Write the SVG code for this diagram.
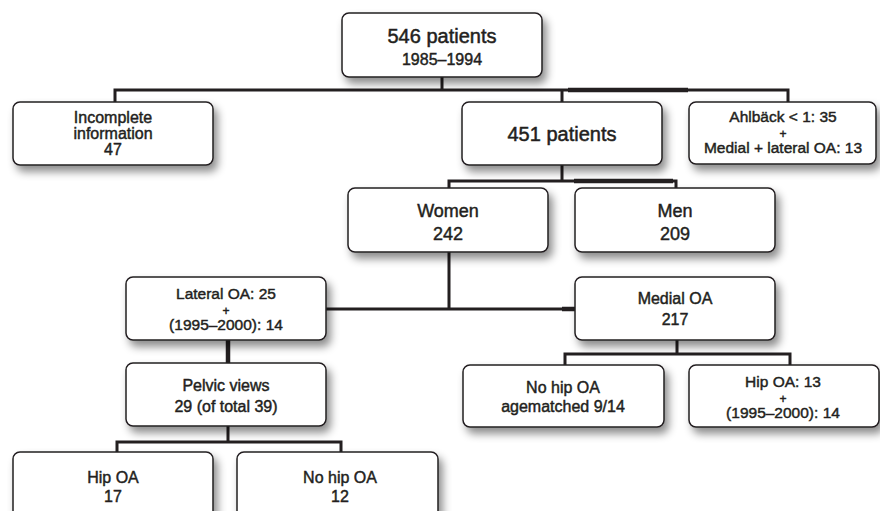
<svg xmlns="http://www.w3.org/2000/svg" width="880" height="511" viewBox="0 0 880 511">
<defs>
<filter id="sh" x="-10%" y="-20%" width="130%" height="160%">
<feDropShadow dx="4" dy="6" stdDeviation="4" flood-color="#000" flood-opacity="0.45"/>
</filter>
<style>
.box{fill:#fff;stroke:#231f20;stroke-width:1.5;filter:url(#sh)}
.ln{stroke:#231f20;stroke-width:3;fill:none}
.th{stroke:#231f20;stroke-width:4.5;fill:none}
text{font-family:"Liberation Sans",Arial,Helvetica,sans-serif;font-weight:normal;fill:#231f20;stroke:#231f20;stroke-width:0.45;text-anchor:middle}
.t15{font-size:16px}
.t3{font-size:15.5px}
.pl{font-size:12px}
.t17{font-size:18px}
.t19{font-size:20px;stroke-width:0.5}
</style>
</defs>
<rect width="880" height="511" fill="#fff"/>
<g id="connectors">
<path class="ln" d="M442 77V90M115 102V90H788V102M562 90V102"/>
<path class="th" d="M568 90H688"/>
<path class="ln" d="M562 165V181M449 188V181H676V188"/>
<path class="th" d="M574 181H673"/>
<path class="ln" d="M449 252V309M326 309H575"/>
<path class="th" d="M562 309H575"/>
<path class="th" d="M228 340V363"/>
<path class="ln" d="M228 426V442M117 452V442H341V452"/>
<path class="ln" d="M677 340V354M565 365V354H790V365"/>
</g>
<g id="n546">
<rect class="box" x="342" y="13" width="200" height="64" rx="7"/>
<text class="t19" x="442" y="43">546 patients</text>
<text class="t15" x="442" y="65">1985–1994</text>
</g>
<g id="incomplete">
<rect class="box" x="13" y="102" width="200" height="63" rx="7"/>
<text class="t15" x="113" y="123">Incomplete</text>
<text class="t15" x="113" y="139">information</text>
<text class="t15" x="113" y="155">47</text>
</g>
<g id="n451">
<rect class="box" x="462" y="102" width="200" height="63" rx="7"/>
<text class="t19" x="562" y="141">451 patients</text>
</g>
<g id="ahlback">
<rect class="box" x="689" y="102" width="187" height="62" rx="7"/>
<text class="t3" x="783" y="122">Ahlbäck &lt; 1: 35</text>
<text class="pl" x="783" y="137.5">+</text>
<text class="t3" x="783" y="153">Medial + lateral OA: 13</text>
</g>
<g id="women">
<rect class="box" x="348" y="188" width="200" height="64" rx="7"/>
<text class="t17" x="448" y="217">Women</text>
<text class="t17" x="448" y="240">242</text>
</g>
<g id="men">
<rect class="box" x="575" y="188" width="200" height="64" rx="7"/>
<text class="t17" x="675" y="217">Men</text>
<text class="t17" x="675" y="240">209</text>
</g>
<g id="lateral">
<rect class="box" x="126" y="277" width="200" height="63" rx="7"/>
<text class="t3" x="226" y="299">Lateral OA: 25</text>
<text class="pl" x="226" y="314.5">+</text>
<text class="t3" x="226" y="330">(1995–2000): 14</text>
</g>
<g id="medial">
<rect class="box" x="575" y="277" width="200" height="63" rx="7"/>
<text class="t15" x="675" y="304">Medial OA</text>
<text class="t15" x="675" y="325">217</text>
</g>
<g id="pelvic">
<rect class="box" x="126" y="363" width="200" height="63" rx="7"/>
<text class="t15" x="226" y="391">Pelvic views</text>
<text class="t15" x="226" y="412">29 (of total 39)</text>
</g>
<g id="nohipage">
<rect class="box" x="463" y="365" width="201" height="62" rx="7"/>
<text class="t15" x="563" y="393">No hip OA</text>
<text class="t15" x="563" y="412">agematched 9/14</text>
</g>
<g id="hip13">
<rect class="box" x="689" y="365" width="190" height="62" rx="7"/>
<text class="t3" x="783" y="387">Hip OA: 13</text>
<text class="pl" x="783" y="402.5">+</text>
<text class="t3" x="783" y="418">(1995–2000): 14</text>
</g>
<g id="hip17">
<rect class="box" x="13" y="452" width="200" height="70" rx="7"/>
<text class="t15" x="113" y="483">Hip OA</text>
<text class="t15" x="113" y="502">17</text>
</g>
<g id="nohip12">
<rect class="box" x="237" y="452" width="201" height="70" rx="7"/>
<text class="t15" x="340" y="483">No hip OA</text>
<text class="t15" x="340" y="502">12</text>
</g>
</svg>
